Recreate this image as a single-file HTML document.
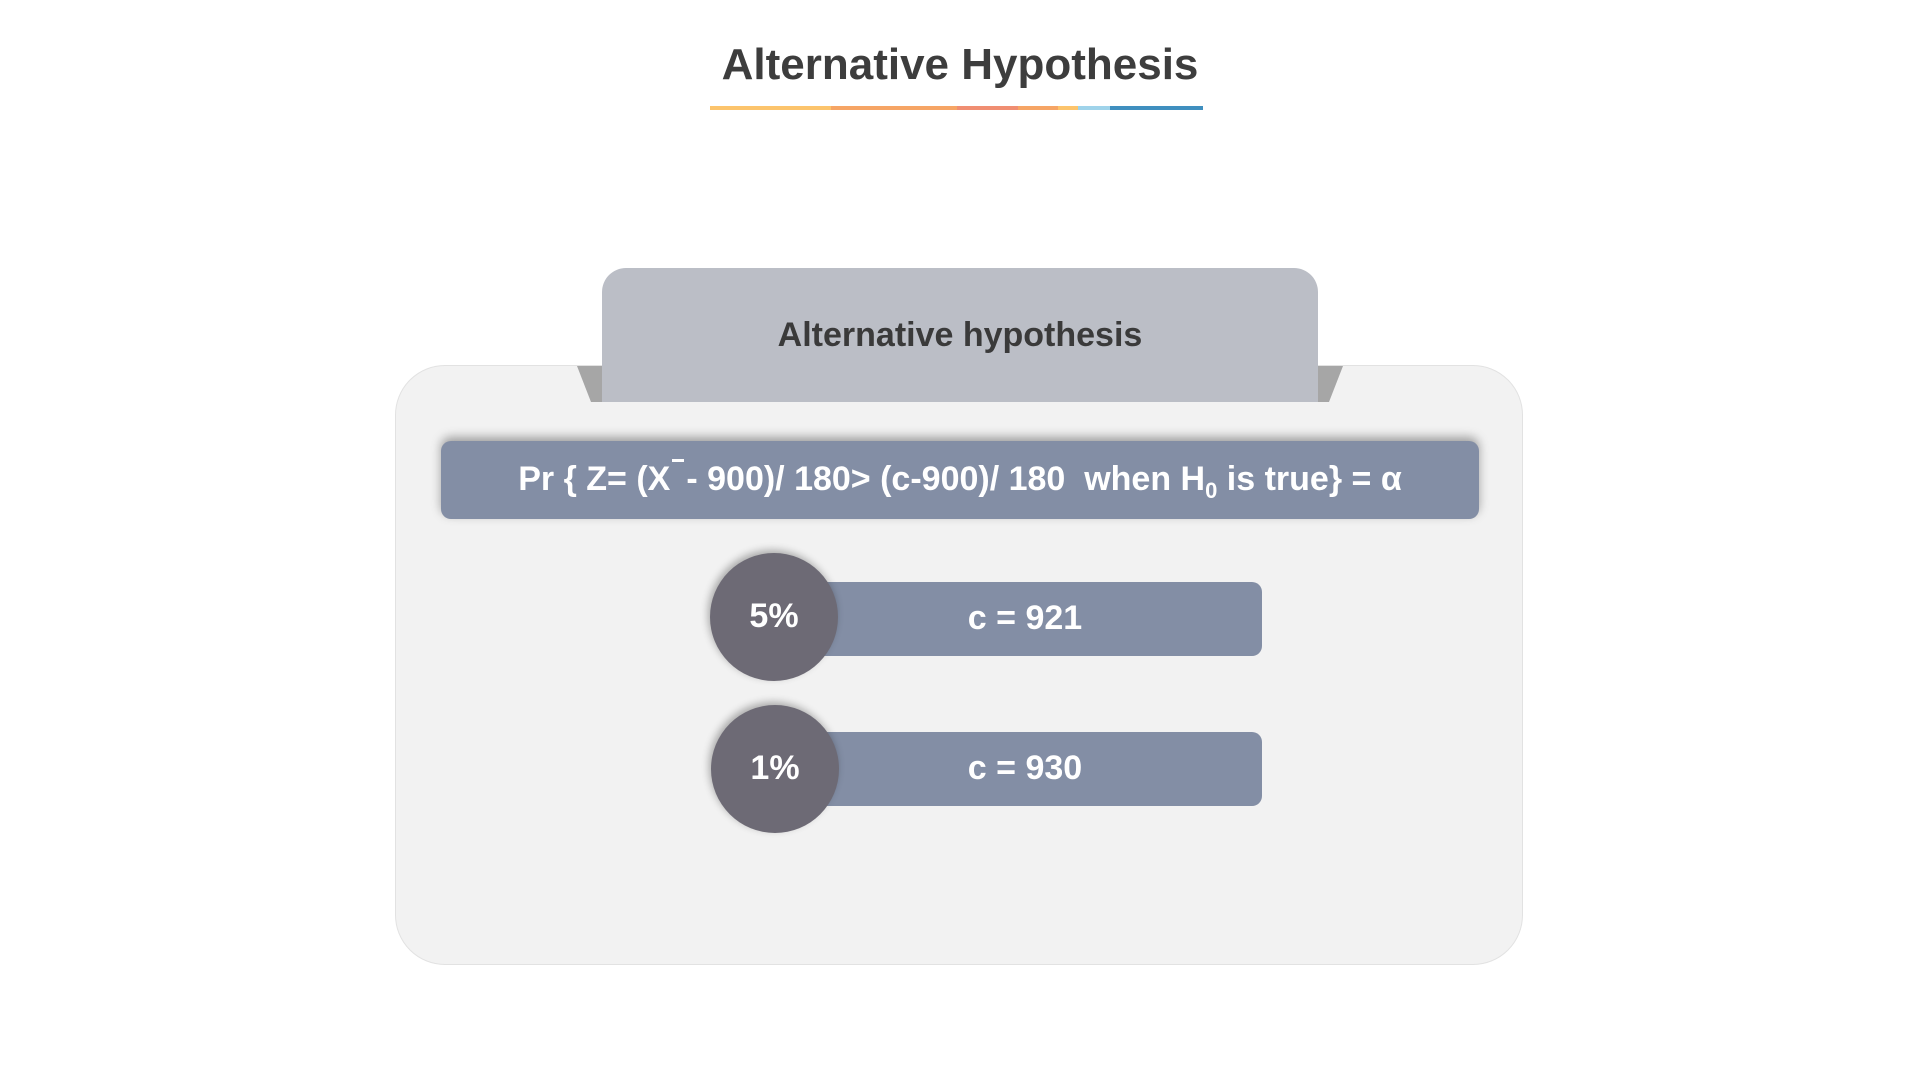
<!DOCTYPE html>
<html><head><meta charset="utf-8"><style>
*{margin:0;padding:0;box-sizing:border-box}
body{width:1920px;height:1080px;background:#fff;position:relative;overflow:hidden;font-family:"Liberation Sans",sans-serif;font-weight:bold}
.abs{position:absolute}
.title{left:0;width:1920px;top:38px;text-align:center;font-size:44px;color:#3d3d3d;line-height:54px}
.ul{top:106px;height:4px}
.panel{left:395px;top:365px;width:1128px;height:600px;background:#f2f2f2;border:1.5px solid #e2e2e2;border-radius:50px}
.tab{left:602px;top:268px;width:716px;height:134px;background:#bbbec6;border-radius:24px 24px 0 0;text-align:center;font-size:34px;color:#3a3a3a;line-height:134px}
.formula{left:441px;top:441px;width:1038px;height:78px;background:#838ea5;border-radius:10px;box-shadow:0 -4px 10px rgba(0,0,0,.35);color:#fff;font-size:34px;text-align:center;line-height:76px;white-space:nowrap}
.bar{left:808px;width:454px;height:74px;background:#838ea5;border-radius:10px;color:#fff;font-size:34px;line-height:72px;text-align:center}
.circ{width:128px;height:128px;border-radius:50%;background:#6d6a75;color:#fff;font-size:34px;line-height:126px;text-align:center;box-shadow:-2px -3px 8px rgba(0,0,0,.3)}
</style></head><body>
<div class="abs title">Alternative Hypothesis</div>
<div class="abs ul" style="left:710px;width:121px;background:#fcc46c"></div>
<div class="abs ul" style="left:831px;width:126px;background:#f6a565"></div>
<div class="abs ul" style="left:957px;width:61px;background:#f08e72"></div>
<div class="abs ul" style="left:1018px;width:40px;background:#f6a565"></div>
<div class="abs ul" style="left:1058px;width:20px;background:#fcc46c"></div>
<div class="abs ul" style="left:1078px;width:32px;background:#9fd3ea"></div>
<div class="abs ul" style="left:1110px;width:93px;background:#3f8fbf"></div>

<div class="abs panel"></div>
<svg class="abs" style="left:0;top:0" width="1920" height="1080">
<polygon points="577,366 602,366 602,402 591,402" fill="#a6a6a6"/>
<polygon points="1343,366 1318,366 1318,402 1329,402" fill="#a6a6a6"/>
</svg>
<div class="abs tab">Alternative hypothesis</div>
<div class="abs formula">Pr { Z= (X<span style="position:relative;display:inline-block;width:16px"><span style="position:absolute;left:2px;top:-36px;width:12px;height:3px;background:#fff;display:block;top:-31px"></span></span>- 900)/ 180&gt; (c-900)/ 180&nbsp; when H<sub style="font-size:22px">0</sub> is true} = α</div>

<div class="abs bar" style="top:582px"><span style="margin-left:-20px">c = 921</span></div>
<div class="abs circ" style="left:710px;top:553px">5%</div>
<div class="abs bar" style="top:732px"><span style="margin-left:-20px">c = 930</span></div>
<div class="abs circ" style="left:711px;top:705px">1%</div>
</body></html>
